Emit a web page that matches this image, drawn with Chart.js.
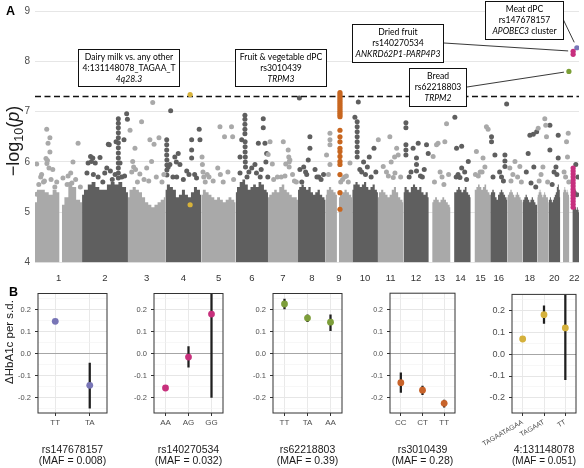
<!DOCTYPE html>
<html lang="en">
<head>
<meta charset="utf-8">
<title>HbA1c diet GWAS</title>
<script src="https://cdn.jsdelivr.net/npm/chart.js@4.4.1/dist/chart.umd.min.js"></script>
<style>
  * { margin: 0; padding: 0; box-sizing: border-box; }
  body { width: 584px; height: 468px; background: #fff; position: relative; overflow: hidden;
         font-family: "Liberation Sans", Arial, sans-serif; color: #000; }
  canvas { position: absolute; }
  .tag { position: absolute; font-weight: bold; font-size: 12.5px; line-height: 12.5px; }
  #ytitleB { position: absolute; left: -51px; top: 335px; width: 120px; line-height: 14px;
             text-align: center; font-size: 11.5px; color: #1a1a1a; transform: rotate(-90deg); }
</style>
</head>
<body>
<canvas id="manhattan" width="584" height="285" style="left:0;top:0"></canvas>
<div class="tag" style="left:6px;top:5px">A</div>
<div class="tag" style="left:9px;top:286px">B</div>
<div id="ytitleB">&Delta;HbA1c per s.d.</div>

<script>
// ---- panel A: genome-wide scan ----
const chromLengths = [249, 243, 198, 191, 181, 171, 159, 146, 141, 136, 135, 134, 115, 107, 103, 90, 81, 78, 59, 63, 48, 51];
const labelledChroms = [1, 2, 3, 4, 5, 6, 7, 8, 9, 10, 11, 12, 13, 14, 15, 16, 18, 20, 22];
const yTicksA = [4, 5, 6, 7, 8, 9];
const gwsThreshold = 7.3;

// height of the dense SNP mass, read at 13 evenly spaced spots along each chromosome (null = no SNPs)
const bandTops = [
  [5.2, 5.45, 5.45, 5.4, 5.35, 5.45, 5.4, 5.15, 5.3, 5.6, 5.5, 5.25, 5.2],
  [5.35, 5.45, 5.55, 5.6, 5.5, 5.45, 5.45, 5.55, 5.6, 5.55, 5.6, 5.5, 5.4],
  [5.3, 5.45, 5.5, 5.45, 5.4, 5.3, 5.2, 5.15, 5.1, 5.15, 5.2, 5.25, 5.3],
  [5.45, 5.55, 5.5, 5.45, 5.3, 5.35, 5.45, 5.35, 5.3, 5.4, 5.5, 5.45, 5.35],
  [5.35, 5.45, 5.4, 5.35, 5.3, 5.25, 5.3, 5.25, 5.2, 5.25, 5.3, 5.25, 5.2],
  [5.4, 5.5, 5.6, 5.65, 5.55, 5.45, 5.5, 5.55, 5.5, 5.6, 5.55, 5.45, 5.4],
  [5.3, 5.35, 5.4, 5.45, 5.4, 5.5, 5.55, 5.45, 5.4, 5.35, 5.3, 5.3, 5.25],
  [5.45, 5.5, 5.55, 5.5, 5.45, 5.5, 5.4, 5.35, 5.4, 5.45, 5.35, 5.3, 5.25],
  [5.35, 5.45, 5.5, 5.45, 5.4, 5.35, 5.3, 5.35, 5.4, 5.45, 5.4, 5.35, 5.3],
  [5.45, 5.55, 5.6, 5.55, 5.5, 5.55, 5.6, 5.5, 5.45, 5.5, 5.55, 5.45, 5.4],
  [5.3, 5.4, 5.45, 5.4, 5.35, 5.3, 5.35, 5.45, 5.5, 5.4, 5.3, 5.25, 5.2],
  [5.4, 5.5, 5.45, 5.4, 5.5, 5.55, 5.5, 5.45, 5.5, 5.4, 5.35, 5.4, 5.3],
  [null, null, 5.2, 5.25, 5.3, 5.25, 5.2, 5.25, 5.3, 5.25, 5.2, 5.15, 5.1],
  [null, null, null, 5.4, 5.45, 5.5, 5.45, 5.4, 5.45, 5.5, 5.4, 5.35, 5.3],
  [null, null, null, 5.45, 5.5, 5.55, 5.5, 5.45, 5.5, 5.55, 5.45, 5.4, 5.35],
  [5.35, 5.4, 5.45, 5.4, 5.3, 5.25, 5.35, 5.4, 5.45, 5.4, 5.35, 5.3, 5.25],
  [5.3, 5.35, 5.4, 5.45, 5.4, 5.35, 5.3, 5.35, 5.4, 5.35, 5.3, 5.25, 5.25],
  [5.2, 5.25, 5.3, 5.35, 5.3, 5.25, 5.2, 5.25, 5.3, 5.25, 5.2, 5.15, 5.15],
  [5.3, 5.35, 5.4, 5.45, 5.4, 5.35, 5.3, 5.35, 5.4, 5.35, 5.3, 5.3, 5.25],
  [5.2, 5.25, 5.3, 5.25, 5.2, 5.25, 5.3, 5.35, 5.4, 5.5, 5.55, 5.45, 5.3],
  [null, null, null, null, 5.4, 5.45, 5.5, 5.45, 5.4, 5.45, 5.4, 5.35, 5.3],
  [null, null, null, null, 5.05, 5.1, 5.15, 5.1, 5.1, 5.05, 5.1, 5.05, 5.0]
];
// [chromosome, from Mb, to Mb] stretches without SNPs
const bandGaps = [[1, 130, 142], [9, 60, 70], [13, 0, 18], [14, 0, 19], [15, 0, 20], [21, 0, 14], [22, 0, 16]];

// individual SNPs above the mass: [chromosome, position Mb, -log10 p]
const snps = [
  [1,9,5.96],[1,9,5.36],[1,20,5.55],[1,30,5.7],[1,35,5.75],[1,45,5.6],[1,50,5.62],[1,58,6.07],[1,62,6.65],
  [1,63,5.97],[1,66,6.03],[1,69,6.37],[1,74,5.88],[1,79,6.48],[1,79,6.2],[1,85,5.65],[1,94,5.85],[1,105,5.5],
  [1,115,5.6],[1,148,5.68],[1,170,5.55],[1,175,5.72],[1,189,5.78],[1,195,5.58],[1,201,6.0],[1,215,5.65],
  [1,228,6.37],[1,240,5.5],
  [2,26,5.78],[2,32,5.98],[2,45,6.11],[2,50,6.01],[2,57,6.08],[2,60,5.75],[2,70,5.98],[2,85,5.7],[2,95,6.09],
  [2,110,5.6],[2,120,5.78],[2,131,5.88],[2,139,6.35],[2,144,6.34],[2,150,5.82],[2,160,5.65],[2,175,5.75],
  [2,180,6.4],[2,192,6.86],[2,192,6.77],[2,192,6.68],[2,192,6.58],[2,192,6.48],[2,192,6.38],[2,192,6.28],
  [2,192,6.18],[2,192,6.08],[2,192,5.98],[2,192,5.88],[2,192,5.78],[2,192,5.68],[2,201,5.98],[2,210,5.7],
  [2,222,6.44],[2,225,5.72],[2,236,6.96],[2,240,6.85],
  [3,11,6.63],[3,20,5.8],[3,25,6.01],[3,30,5.9],[3,37,6.27],[3,40,5.85],[3,50,5.6],[3,63,5.76],[3,72,6.8],
  [3,85,5.65],[3,99,5.88],[3,110,5.62],[3,116,6.44],[3,125,6.01],[3,131,7.18],[3,138,6.35],[3,150,5.7],
  [3,164,6.48],[3,180,5.6],[3,190,5.75],
  [4,7,6.44],[4,7,6.34],[4,7,6.24],[4,7,6.14],[4,8,6.04],[4,8,5.94],[4,8,5.84],[4,8,5.74],[4,15,5.9],[4,24,5.95],
  [4,28,7.02],[4,40,5.7],[4,50,6.1],[4,58,6.0],[4,60,5.7],[4,68,6.17],[4,77,5.95],[4,95,5.65],[4,113,5.82],
  [4,125,5.75],[4,139,6.44],[4,139,6.24],[4,139,6.08],[4,155,5.75],[4,165,5.68],[4,179,6.65],[4,183,6.44],
  [5,3,6.1],[5,5,5.95],[5,8,5.8],[5,12,5.7],[5,20,5.6],[5,30,5.75],[5,40,5.7],[5,62,5.62],[5,86,5.88],
  [5,98,6.7],[5,100,5.75],[5,115,5.6],[5,122,6.5],[5,140,5.8],[5,159,6.7],[5,165,6.5],[5,170,5.65],
  [6,23,5.78],[6,23,6.1],[6,32,6.44],[6,49,6.93],[6,49,6.85],[6,49,6.75],[6,49,6.65],[6,49,6.56],[6,50,6.4],
  [6,50,6.3],[6,50,6.2],[6,51,6.1],[6,51,6.0],[6,52,5.9],[6,60,5.7],[6,70,5.8],[6,85,5.88],[6,102,5.95],
  [6,110,5.78],[6,120,6.37],[6,130,5.7],[6,135,5.85],[6,146,6.86],[6,146,6.68],[6,155,6.37],[6,160,6.0],
  [6,164,6.17],[6,170,5.7],
  [7,1,6.15],[7,11,6.4],[7,23,5.96],[7,30,5.65],[7,50,5.7],[7,70,5.7],[7,81,6.4],[7,90,5.72],[7,94,5.96],
  [7,107,6.24],[7,110,6.1],[7,112,6.0],[7,112,5.9],[7,116,6.04],[7,130,5.75],[7,140,5.62],[7,150,5.6],
  [8,7,7.27],[8,10,5.85],[8,20,5.6],[8,30,5.9],[8,40,5.8],[8,46,5.75],[8,54,6.04],[8,63,6.5],[8,63,6.27],
  [8,90,5.85],[8,100,5.7],[8,110,5.7],[8,122,5.65],[8,135,5.75],
  [9,5,6.14],[9,15,5.75],[9,23,6.57],[9,23,6.44],[9,23,6.34],[9,23,5.95],[9,80,5.6],[9,90,5.65],[9,100,5.7],
  [9,110,5.72],[9,120,5.6],[9,129,5.98],
  [10,14,6.89],[10,26,6.8],[10,26,6.7],[10,26,6.6],[10,26,6.5],[10,26,6.4],[10,26,6.3],[10,26,6.2],[10,26,6.1],
  [10,32,7.19],[10,40,5.85],[10,50,5.8],[10,60,6.0],[10,70,5.75],[10,80,5.9],[10,90,6.1],[10,100,5.7],
  [10,115,6.27],[10,125,5.8],
  [11,2,6.44],[11,28,5.91],[11,45,5.8],[11,55,5.72],[11,63,6.5],[11,70,6.0],[11,81,5.69],[11,88,6.1],
  [11,90,5.78],[11,99,6.27],[11,107,6.14],[11,120,5.7],
  [12,13,6.78],[12,13,6.68],[12,13,6.34],[12,13,6.24],[12,13,6.14],[12,30,5.7],[12,40,5.8],[12,51,6.27],
  [12,69,6.08],[12,69,5.95],[12,69,5.82],[12,78,6.37],[12,90,5.72],[12,100,5.7],[12,110,5.85],[12,122,6.34],
  [12,131,6.17],
  [13,23,6.11],[13,30,5.6],[13,41,6.34],[13,49,6.37],[13,60,5.8],[13,70,5.7],[13,80,5.55],[13,85,6.4],
  [13,94,6.76],[13,105,5.75],
  [14,23,6.89],[14,30,5.7],[14,32,6.27],[14,40,5.75],[14,50,5.69],[14,59,6.31],[14,59,5.88],[14,75,5.8],
  [14,85,5.65],[14,94,6.01],
  [15,25,5.75],[15,30,6.21],[15,40,5.72],[15,50,5.8],[15,60,5.8],[15,65,6.08],[15,75,5.9],[15,83,6.7],[15,92,6.65],
  [16,7,6.5],[16,7,6.4],[16,15,5.7],[16,25,6.14],[16,50,5.8],[16,60,5.7],[16,70,5.62],[16,78,6.14],[16,78,6.02],
  [16,78,5.91],[16,87,7.15],
  [17,14,5.88],[17,20,5.62],[17,30,5.75],[17,41,6.01],[17,55,5.7],[17,67,5.91],[17,75,5.6],
  [18,20,5.8],[18,30,6.17],[18,39,6.53],[18,45,5.58],[18,57,6.55],[18,60,5.9],[18,70,5.5],[18,75,6.6],
  [19,5,6.67],[19,10,5.62],[19,20,5.75],[19,30,5.9],[19,40,6.86],[19,45,6.73],[19,49,6.5],[19,55,5.6],
  [20,8,6.73],[20,8,6.24],[20,20,5.55],[20,30,5.8],[20,40,5.9],[20,45,5.75],[20,52,6.53],[20,52,6.08],
  [21,20,5.8],[21,28,5.7],[21,33,6.4],[21,38,6.1],[21,42,6.57],[21,45,5.6],
  [22,25,5.4],[22,34,5.95],[22,40,5.35],[22,45,5.7]
];

// lead loci, coloured by dietary trait
const dairyHits = [[4,131,7.34],[4,131,5.15]];
const fruitVegHits = [
  [9,76,7.38],[9,76,7.34],[9,76,7.3],[9,76,7.26],[9,76,7.22],[9,76,7.18],[9,76,7.14],[9,76,7.1],[9,76,7.06],
  [9,76,7.02],[9,76,6.98],[9,76,6.94],[9,76,6.9],[9,76,6.63],[9,76,6.5],[9,76,6.4],[9,76,6.27],[9,76,6.21],
  [9,76,6.11],[9,76,6.01],[9,76,5.95],[9,76,5.75],[9,76,5.39],[9,76,5.06]
];
const breadHits = [[21,45.5,7.8]];
const driedFruitHits = [
  [22,20,8.2],[22,20,8.14],[22,20,5.88],[22,20,5.82],[22,20,5.76],[22,20,5.7],[22,20,5.64],[22,20,5.58],
  [22,20,5.52],[22,20,5.46],[22,20,5.4],[22,20,5.34],[22,20,5.28],[22,20,5.22],[22,20,5.16],[22,20,5.1]
];
const meatHits = [[22,39.5,8.27]];

// ---- panel B: HbA1c by genotype ----
const genoSnps = ['rs147678157', 'rs140270534', 'rs62218803', 'rs3010439', '4:131148078'];
const genoMaf = ['0.008', '0.032', '0.39', '0.28', '0.051'];
const genotypes = [['TT', 'TA'], ['AA', 'AG', 'GG'], ['TT', 'TA', 'AA'], ['CC', 'CT', 'TT'], ['TAGAATAGAA', 'TAGAAT', 'TT']];
const effect = [[0.148, -0.144], [-0.156, -0.015, 0.181], [0.227, 0.163, 0.144], [-0.132, -0.166, -0.226], [0.07, 0.182, 0.121]];
const ciLow = [[0.14, -0.248], [-0.164, -0.061, -0.199], [0.205, 0.146, 0.105], [-0.176, -0.187, -0.244], [0.062, 0.142, -0.117]];
const ciHigh = [[0.156, -0.042], [-0.148, 0.033, 0.56], [0.25, 0.178, 0.178], [-0.087, -0.147, -0.211], [0.078, 0.222, 0.36]];
const yTicksB = [-0.25, -0.2, -0.15, -0.1, -0.05, 0, 0.05, 0.1, 0.15, 0.2, 0.25];

// ---- styling ----
const SANS = '"Liberation Sans", Arial, sans-serif';
const NOTE = 'Lato, "Open Sans", sans-serif';
const LIGHT = '#a9a9a9', DARK = '#5f5f5f';
const hitColors = { dairy: '#d7b23a', fruit: '#c8661f', bread: '#7b9f36', dried: '#c72f7e', meat: '#7876b8' };
const panelColors = ['#7875b6', '#c7307c', '#7d9e3a', '#c8632a', '#d5b13c'];
const panelLeft = [38, 154, 273, 390, 512];
const panelWidth = [70, 70, 70, 66, 65];
const yTickSizeB = [7.5, 7.5, 7.5, 7, 9];
const xTickSizeB = [8, 8, 8, 8, 7];

const chromStarts = [];
let acc = 0;
chromLengths.forEach(l => { chromStarts.push(acc); acc += l; });
const genomeLength = acc;
const gpos = (chr, pos) => chromStarts[chr - 1] + pos;
const chromColor = chr => (chr % 2 ? LIGHT : DARK);
const toXY = rows => rows.map(([c, p, v]) => ({ x: gpos(c, p), y: v }));

// text boxes over panel A (pixel layout)
const callouts = [
  { box: [78, 49, 102, 38], lines: [[['Dairy milk vs. any other']], [['4:131148078_TAGAA_T']], [['4q28.3', true]]] },
  { box: [235, 49, 92, 38], lines: [[['Fruit & vegetable dPC']], [['rs3010439']], [['TRPM3', true]]] },
  { box: [352, 24, 92, 39], lines: [[['Dried fruit']], [['rs140270534']], [['ANKRD62P1-PARP4P3', true]]],
    from: [444, 43], target: driedFruitHits[0], gap: 5 },
  { box: [485, 1, 79, 39], lines: [[['Meat dPC']], [['rs147678157']], [['APOBEC3', true], [' cluster']]],
    from: [563, 19], target: meatHits[0], gap: 6 },
  { box: [409, 68, 58, 39], lines: [[['Bread']], [['rs62218803']], [['TRPM2', true]]],
    from: [467, 87], target: breadHits[0], gap: 5 }
];

// dense SNP mass per chromosome, split where there are no SNPs
function bandPieces(chr) {
  const len = chromLengths[chr - 1], tops = bandTops[chr - 1];
  const gaps = bandGaps.filter(g => g[0] === chr);
  const pieces = [];
  let cur = [];
  tops.forEach((top, k) => {
    const pos = len * k / (tops.length - 1);
    if (top === null || gaps.some(g => pos >= g[1] && pos <= g[2])) return;
    const prev = cur.length ? cur[cur.length - 1] : null;
    const g = gaps.find(g => g[2] < pos && (prev ? prev.pos < g[1] : true));
    if (g) {
      if (prev) { cur.push({ pos: g[1], y: prev.y }); pieces.push(cur); }
      cur = [{ pos: g[2], y: top }];
    }
    cur.push({ pos, y: top });
  });
  pieces.push(cur);
  return pieces.map(p => p.map(d => ({ x: gpos(chr, d.pos), y: d.y })));
}
const bandSets = [];
chromLengths.forEach((_, i) => {
  bandPieces(i + 1).forEach(p => bandSets.push({
    type: 'line', data: p, borderWidth: 0, pointRadius: 0, stepped: 'middle',
    fill: { value: 4 }, backgroundColor: chromColor(i + 1), order: 3
  }));
});

const hitSet = (rows, color) => ({
  type: 'scatter', data: toXY(rows), backgroundColor: color, pointRadius: 2.6, borderWidth: 0, order: 0
});
const snpSet = (odd) => ({
  type: 'scatter', data: toXY(snps.filter(r => (r[0] % 2 === 1) === odd)),
  backgroundColor: odd ? LIGHT : DARK, pointRadius: 2.5, borderWidth: 0, order: 2
});

const centreToChrom = {};
labelledChroms.forEach(c => { centreToChrom[gpos(c, chromLengths[c - 1] / 2)] = String(c); });

const yTitleA = {
  id: 'yTitleA',
  afterDraw(chart) {
    const ctx = chart.ctx;
    const parts = [['\u2212log', '18px ' + SANS, 0], ['10', '12.5px ' + SANS, 4.5], ['(', '18px ' + SANS, 0],
                   ['p', 'italic 18px ' + SANS, 0], [')', '18px ' + SANS, 0]];
    ctx.save();
    ctx.translate(12, 141);
    ctx.rotate(-Math.PI / 2);
    ctx.fillStyle = '#1a1a1a';
    ctx.textBaseline = 'alphabetic';
    let total = 0;
    parts.forEach(p => { ctx.font = p[1]; p.push(ctx.measureText(p[0]).width); total += p[3]; });
    let px = -total / 2;
    parts.forEach(p => { ctx.font = p[1]; ctx.fillText(p[0], px, 6.5 + p[2]); px += p[3]; });
    ctx.restore();
  }
};

const calloutPlugin = {
  id: 'callouts',
  afterDatasetsDraw(chart) {
    const { ctx } = chart;
    const { x, y } = chart.scales;
    ctx.save();
    callouts.forEach(c => {
      const [bx, by, bw, bh] = c.box;
      if (c.target) {
        const [chr, pos, v] = c.target;
        const tx = x.getPixelForValue(gpos(chr, pos)), ty = y.getPixelForValue(v);
        const [fx, fy] = c.from;
        const d = Math.hypot(tx - fx, ty - fy);
        ctx.beginPath();
        ctx.moveTo(fx, fy);
        ctx.lineTo(tx - (tx - fx) * c.gap / d, ty - (ty - fy) * c.gap / d);
        ctx.strokeStyle = '#222';
        ctx.lineWidth = 0.9;
        ctx.stroke();
      }
      ctx.fillStyle = '#fff';
      ctx.fillRect(bx, by, bw, bh);
      ctx.strokeStyle = '#111';
      ctx.lineWidth = 1;
      ctx.strokeRect(bx + 0.5, by + 0.5, bw - 1, bh - 1);
      ctx.textBaseline = 'middle';
      ctx.textAlign = 'left';
      ctx.fillStyle = '#000';
      c.lines.forEach((line, li) => {
        const ly = by + bh / 2 + (li - 1) * 11;
        const segs = line.map(([t, it]) => {
          const font = (it ? 'italic ' : '') + '8.6px ' + NOTE;
          ctx.font = font;
          return { t, font, w: ctx.measureText(t).width };
        });
        let px = bx + bw / 2 - segs.reduce((s, g) => s + g.w, 0) / 2;
        segs.forEach(g => { ctx.font = g.font; ctx.fillText(g.t, px, ly); px += g.w; });
      });
    });
    ctx.restore();
  }
};

new Chart(document.getElementById('manhattan'), {
  type: 'scatter',
  data: {
    datasets: [
      hitSet(dairyHits, hitColors.dairy),
      hitSet(fruitVegHits, hitColors.fruit),
      hitSet(breadHits, hitColors.bread),
      hitSet(driedFruitHits, hitColors.dried),
      hitSet(meatHits, hitColors.meat),
      { type: 'line', data: [{ x: 0, y: gwsThreshold }, { x: genomeLength, y: gwsThreshold }],
        borderColor: '#111', borderWidth: 1.4, borderDash: [6, 3.5], pointRadius: 0, order: 1 },
      snpSet(true), snpSet(false),
      ...bandSets
    ]
  },
  options: {
    responsive: false,
    animation: false,
    layout: { padding: { top: 8, right: 5, left: 0, bottom: 0 } },
    plugins: { legend: { display: false }, tooltip: { enabled: false } },
    scales: {
      x: {
        type: 'linear', min: 0, max: genomeLength,
        afterBuildTicks: s => { s.ticks = Object.keys(centreToChrom).map(v => ({ value: +v })); },
        afterFit: s => { s.height = 22.4; s.paddingLeft = 0; s.paddingRight = 0; },
        grid: { display: false, drawTicks: false },
        border: { display: false },
        ticks: { autoSkip: false, maxRotation: 0, padding: 10, color: '#333',
                 font: { family: SANS, size: 9.5 }, callback: v => centreToChrom[v] || '' }
      },
      y: {
        min: 4, max: 9,
        afterBuildTicks: s => { s.ticks = yTicksA.map(v => ({ value: v })); },
        afterFit: s => { s.width = 35; },
        grid: { color: '#e6e6e6', drawTicks: false },
        border: { display: false },
        ticks: { padding: 5, color: '#4d4d4d', font: { family: SANS, size: 10 } }
      }
    }
  },
  plugins: [yTitleA, calloutPlugin]
});

// ---- panel B charts ----
const isMajor = v => Math.abs(v * 10 - Math.round(v * 10)) < 1e-6;
const framePlugin = {
  id: 'frame',
  afterDatasetsDraw(chart) {
    const { ctx, chartArea: a } = chart;
    ctx.save();
    ctx.strokeStyle = '#333';
    ctx.lineWidth = 1;
    ctx.strokeRect(a.left, a.top, a.right - a.left, a.bottom - a.top);
    ctx.restore();
  }
};

genoSnps.forEach((snp, i) => {
  const cv = document.createElement('canvas');
  cv.width = 36 + panelWidth[i] + 3;
  cv.height = 183;
  cv.style.left = (panelLeft[i] - 36) + 'px';
  cv.style.top = '285px';
  document.body.appendChild(cv);
  const rot = i === 4 ? 30 : 0;
  new Chart(cv, {
    data: {
      labels: genotypes[i],
      datasets: [
        { type: 'line', data: effect[i], showLine: false, pointRadius: 3.4, pointBorderWidth: 0,
          pointBackgroundColor: panelColors[i], pointBorderColor: panelColors[i], order: 0 },
        { type: 'bar', data: ciLow[i].map((lo, j) => [lo, ciHigh[i][j]]), backgroundColor: '#1f1f1f',
          barThickness: 1.6, order: 1 }
      ]
    },
    options: {
      responsive: false,
      animation: false,
      layout: { padding: { top: 6, right: 3, left: 0, bottom: 0 } },
      plugins: { legend: { display: false }, tooltip: { enabled: false } },
      scales: {
        x: {
          afterFit: s => { s.height = 55; s.paddingLeft = 0; s.paddingRight = 0; },
          grid: { offset: false, color: '#e9e9e9', tickColor: '#333', tickLength: 3 },
          border: { display: false },
          ticks: { autoSkip: false, minRotation: rot, maxRotation: rot, padding: 2, color: '#4d4d4d',
                   font: { family: SANS, size: xTickSizeB[i] } },
          title: { display: true, text: [snp, '(MAF = ' + genoMaf[i] + ')'], color: '#1a1a1a',
                   font: { family: SANS, size: 10.5, lineHeight: 1.05 }, padding: { top: 0, bottom: 1.5 } }
        },
        y: {
          min: -0.27, max: 0.275,
          afterBuildTicks: s => { s.ticks = yTicksB.map(v => ({ value: v })); },
          afterFit: s => { s.width = 36; },
          grid: {
            color: c => (c.tick.value === 0 ? '#a6a6a6' : isMajor(c.tick.value) ? '#e6e6e6' : '#f2f2f2'),
            lineWidth: c => (isMajor(c.tick.value) ? 1 : 0.6),
            tickColor: c => (isMajor(c.tick.value) ? '#333' : 'rgba(0,0,0,0)'),
            tickLength: 3
          },
          border: { display: false },
          ticks: { autoSkip: false, padding: 4, color: '#4d4d4d', font: { family: SANS, size: yTickSizeB[i] },
                   callback: v => (isMajor(v) ? v.toFixed(1) : '') }
        }
      }
    },
    plugins: [framePlugin]
  });
});
</script>
</body>
</html>
